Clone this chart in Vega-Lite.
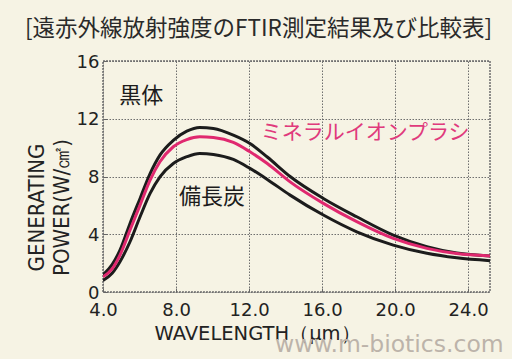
{
  "$schema": "https://vega.github.io/schema/vega-lite/v6.json",
  "width": 387,
  "height": 231,
  "autosize": "none",
  "padding": {"left": 103, "top": 61, "right": 22, "bottom": 67},
  "background": "#f6f3e4",
  "title": {
    "text": "[遠赤外線放射強度のFTIR測定結果及び比較表]",
    "font": "Noto Sans CJK JP",
    "fontSize": 22.5,
    "fontWeight": "normal",
    "color": "#2a2a2a",
    "anchor": "start",
    "frame": "group",
    "dx": -78,
    "baseline": "middle",
    "offset": 2
  },
  "config": {
    "view": {"stroke": "#6e6e6e", "strokeWidth": 1.5, "strokeDash": [2, 1]},
    "axis": {
      "domain": false,
      "labelFont": "DejaVu Sans",
      "labelFontSize": 18,
      "labelColor": "#222",
      "titleColor": "#222",
      "titleFontWeight": "normal",
      "labelOverlap": false,
      "labelFlush": false,
      "tickColor": "#666",
      "tickWidth": 1,
      "tickSize": -4,
      "gridColor": "#6e6e6e",
      "gridWidth": 1,
      "gridDash": [1.5, 1.5],
      "gridOpacity": {"condition": {"test": "datum.value % 4 === 0", "value": 1}, "value": 0}
    }
  },
  "datasets": {
    "curves": [
      {"wl": 4.0, "power": 1.2, "s": "黒体"},
      {"wl": 4.5, "power": 1.9, "s": "黒体"},
      {"wl": 4.93, "power": 2.9, "s": "黒体"},
      {"wl": 5.48, "power": 4.75, "s": "黒体"},
      {"wl": 6.03, "power": 6.48, "s": "黒体"},
      {"wl": 6.58, "power": 8.2, "s": "黒体"},
      {"wl": 7.12, "power": 9.48, "s": "黒体"},
      {"wl": 7.85, "power": 10.5, "s": "黒体"},
      {"wl": 8.59, "power": 11.14, "s": "黒体"},
      {"wl": 9.3, "power": 11.4, "s": "黒体"},
      {"wl": 10.05, "power": 11.33, "s": "黒体"},
      {"wl": 11.14, "power": 10.87, "s": "黒体"},
      {"wl": 12.05, "power": 10.29, "s": "黒体"},
      {"wl": 13.0, "power": 9.35, "s": "黒体"},
      {"wl": 14.25, "power": 8.0, "s": "黒体"},
      {"wl": 16.07, "power": 6.48, "s": "黒体"},
      {"wl": 17.9, "power": 5.21, "s": "黒体"},
      {"wl": 19.9, "power": 3.94, "s": "黒体"},
      {"wl": 21.74, "power": 3.14, "s": "黒体"},
      {"wl": 23.38, "power": 2.7, "s": "黒体"},
      {"wl": 25.2, "power": 2.5, "s": "黒体"},
      {"wl": 4.0, "power": 0.8, "s": "備長炭"},
      {"wl": 4.5, "power": 1.3, "s": "備長炭"},
      {"wl": 4.93, "power": 2.1, "s": "備長炭"},
      {"wl": 5.48, "power": 3.48, "s": "備長炭"},
      {"wl": 6.03, "power": 5.21, "s": "備長炭"},
      {"wl": 6.58, "power": 6.83, "s": "備長炭"},
      {"wl": 7.12, "power": 7.98, "s": "備長炭"},
      {"wl": 7.85, "power": 8.9, "s": "備長炭"},
      {"wl": 8.59, "power": 9.37, "s": "備長炭"},
      {"wl": 9.3, "power": 9.6, "s": "備長炭"},
      {"wl": 10.05, "power": 9.53, "s": "備長炭"},
      {"wl": 11.14, "power": 9.18, "s": "備長炭"},
      {"wl": 12.05, "power": 8.56, "s": "備長炭"},
      {"wl": 13.0, "power": 7.8, "s": "備長炭"},
      {"wl": 14.25, "power": 6.71, "s": "備長炭"},
      {"wl": 16.07, "power": 5.33, "s": "備長炭"},
      {"wl": 17.9, "power": 4.17, "s": "備長炭"},
      {"wl": 19.9, "power": 3.25, "s": "備長炭"},
      {"wl": 21.74, "power": 2.68, "s": "備長炭"},
      {"wl": 23.38, "power": 2.37, "s": "備長炭"},
      {"wl": 25.2, "power": 2.17, "s": "備長炭"},
      {"wl": 4.0, "power": 1.05, "s": "ミネラルイオンプラシ"},
      {"wl": 4.5, "power": 1.6, "s": "ミネラルイオンプラシ"},
      {"wl": 4.93, "power": 2.56, "s": "ミネラルイオンプラシ"},
      {"wl": 5.48, "power": 4.29, "s": "ミネラルイオンプラシ"},
      {"wl": 6.03, "power": 6.02, "s": "ミネラルイオンプラシ"},
      {"wl": 6.58, "power": 7.75, "s": "ミネラルイオンプラシ"},
      {"wl": 7.12, "power": 9.02, "s": "ミネラルイオンプラシ"},
      {"wl": 7.85, "power": 10.06, "s": "ミネラルイオンプラシ"},
      {"wl": 8.59, "power": 10.56, "s": "ミネラルイオンプラシ"},
      {"wl": 9.3, "power": 10.75, "s": "ミネラルイオンプラシ"},
      {"wl": 10.05, "power": 10.7, "s": "ミネラルイオンプラシ"},
      {"wl": 11.14, "power": 10.36, "s": "ミネラルイオンプラシ"},
      {"wl": 12.05, "power": 9.71, "s": "ミネラルイオンプラシ"},
      {"wl": 13.0, "power": 8.9, "s": "ミネラルイオンプラシ"},
      {"wl": 14.25, "power": 7.63, "s": "ミネラルイオンプラシ"},
      {"wl": 16.07, "power": 6.14, "s": "ミネラルイオンプラシ"},
      {"wl": 17.9, "power": 4.87, "s": "ミネラルイオンプラシ"},
      {"wl": 19.9, "power": 3.71, "s": "ミネラルイオンプラシ"},
      {"wl": 21.74, "power": 3.02, "s": "ミネラルイオンプラシ"},
      {"wl": 23.38, "power": 2.66, "s": "ミネラルイオンプラシ"},
      {"wl": 25.2, "power": 2.5, "s": "ミネラルイオンプラシ"}
    ]
  },
  "layer": [
    {
      "data": {"name": "curves"},
      "mark": {"type": "line", "interpolate": "monotone", "strokeWidth": 3, "clip": true},
      "encoding": {
        "x": {
          "field": "wl", "type": "quantitative",
          "scale": {"domain": [4, 25.2], "nice": false, "zero": false},
          "axis": {
            "values": [4, 6, 8, 10, 12, 14, 16, 18, 20, 22, 24],
            "labelExpr": "datum.value % 4 === 0 ? format(datum.value, '.1f') : ''",
            "labelPadding": 13,
            "title": "WAVELENGTH（μm）",
            "titleFont": "DejaVu Sans",
            "titleFontSize": 19.5,
            "titleAlign": "center",
            "titleBaseline": "middle",
            "titleX": 154,
            "titleY": 41
          }
        },
        "y": {
          "field": "power", "type": "quantitative",
          "scale": {"domain": [0, 16], "nice": false},
          "axis": {
            "values": [0, 2, 4, 6, 8, 10, 12, 14, 16],
            "labelExpr": "datum.value % 4 === 0 ? datum.label : ''",
            "labelPadding": 8,
            "labelOffset": 1,
            "title": ["GENERATING", "POWER(W/㎠)"],
            "titleFont": "'DejaVu Sans Condensed', 'Liberation Sans', sans-serif",
            "titleFontSize": 22,
            "titleLineHeight": 25,
            "titleAngle": -90,
            "titleAlign": "center",
            "titleBaseline": "top",
            "titleX": -77,
            "titleY": 146
          }
        },
        "color": {
          "field": "s", "type": "nominal",
          "scale": {"domain": ["黒体", "備長炭", "ミネラルイオンプラシ"], "range": ["#1c1c1c", "#1c1c1c", "#e0286f"]},
          "legend": null
        },
        "order": {"field": "s"}
      }
    },
    {
      "data": {"values": [{"wl": 6.1, "power": 13.6, "label": "黒体"}, {"wl": 9.97, "power": 6.57, "label": "備長炭"}]},
      "mark": {"type": "text", "font": "Noto Sans CJK JP", "fontSize": 22, "color": "#1c1c1c", "align": "center", "baseline": "middle"},
      "encoding": {
        "x": {"field": "wl", "type": "quantitative"},
        "y": {"field": "power", "type": "quantitative"},
        "text": {"field": "label"}
      }
    },
    {
      "data": {"values": [{"wl": 18.36, "power": 11.0, "label": "ミネラルイオンプラシ"}]},
      "mark": {"type": "text", "font": "Noto Sans CJK JP", "fontSize": 21, "color": "#e03a7c", "align": "center", "baseline": "middle"},
      "encoding": {
        "x": {"field": "wl", "type": "quantitative"},
        "y": {"field": "power", "type": "quantitative"},
        "text": {"field": "label"}
      }
    },
    {
      "data": {"values": [{"wl": 25.95, "power": -3.65, "label": "www.m-biotics.com"}]},
      "mark": {"type": "text", "font": "DejaVu Sans", "fontSize": 23.5, "color": "#bcb3aa", "align": "right", "baseline": "middle", "clip": false},
      "encoding": {
        "x": {"field": "wl", "type": "quantitative"},
        "y": {"field": "power", "type": "quantitative"},
        "text": {"field": "label"}
      }
    }
  ]
}
